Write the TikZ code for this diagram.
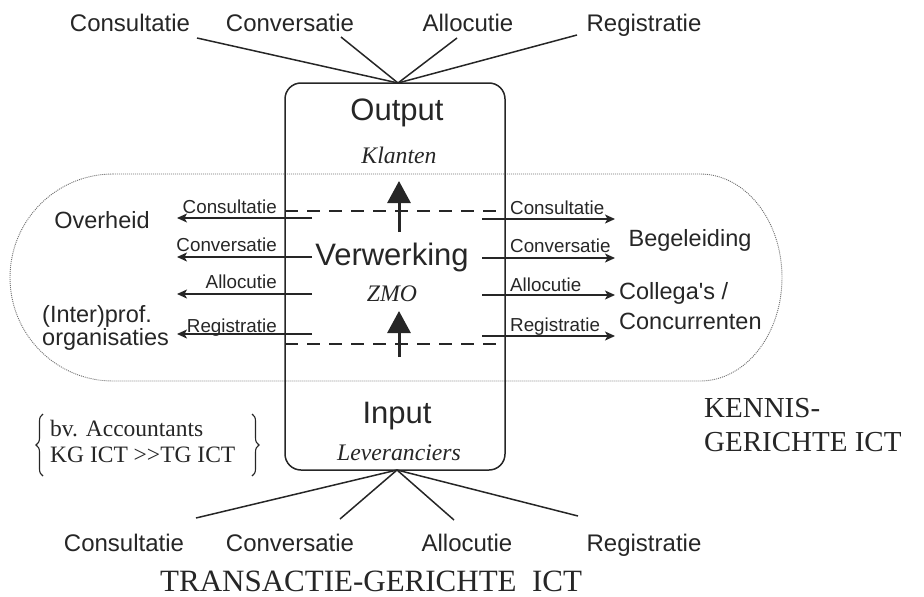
\documentclass[tikz,border=0pt]{standalone}
\usepackage{fontspec}
\setmainfont{Liberation Serif}
\setsansfont{Liberation Sans}
\usetikzlibrary{arrows.meta,decorations.pathreplacing}
\definecolor{ink}{HTML}{262626}
\definecolor{dotc}{HTML}{707070}
\begin{document}
\begin{tikzpicture}[x=1pt,y=1pt,
  every node/.style={inner sep=0pt, text=ink},
  outl/.style={font=\sffamily\fontsize{24}{26}\selectfont},
  big/.style={font=\sffamily\fontsize{31}{34}\selectfont},
  sub/.style={font=\rmfamily\itshape\fontsize{23.7}{26}\selectfont},
  arl/.style={font=\sffamily\fontsize{18.8}{20}\selectfont},
  party/.style={font=\sffamily\fontsize{23.5}{23}\selectfont},
  partyb/.style={font=\sffamily\fontsize{23.5}{30}\selectfont},
  capt/.style={font=\rmfamily\fontsize{31}{34}\selectfont},
  brk/.style={font=\rmfamily\fontsize{23.5}{26}\selectfont},
  conn/.style={draw=ink, line width=1.5pt},
  sidearrow/.style={draw=ink, line width=1.3pt, -{Stealth[length=10pt,width=9pt,inset=2.5pt]}},
  uparrow/.style={draw=ink, line width=3pt, -{Triangle[length=22pt,width=23pt]}},
  phase/.style={draw=ink, line width=2.4pt, dash pattern=on 13pt off 9pt},
]
\useasboundingbox (0,0) rectangle (924,-597);

% dotted knowledge region
\draw[dotc, line width=0.9pt, dash pattern=on 1pt off 1pt]
  (113,-174) -- (700,-174)
  arc[start angle=90,end angle=-90,x radius=82pt,y radius=103.5pt]
  -- (113,-381)
  arc[start angle=270,end angle=90,x radius=103pt,y radius=103.5pt] -- cycle;

% main box
\node[draw=ink, line width=1.5pt, rounded corners=16pt, minimum width=220pt, minimum height=387pt] (box) at (395,-276.5) {};

\node[big] (out) at (397,-113) {Output};
\node[sub] (kl) at (399,-155) {Klanten};
\node[big] (verw) at (392,-257) {Verwerking};
\node[sub] (zmo) at (392,-294) {ZMO};
\node[big] (inp) at (397,-416) {Input};
\node[sub] (lev) at (399,-453) {Leveranciers};

% dashed phase borders
\coordinate (d1a) at (285,-211); \coordinate (d1b) at (505,-211);
\coordinate (d2a) at (285,-344); \coordinate (d2b) at (505,-344);
\draw[phase] (d1a) -- (d1b);
\draw[phase] (d2a) -- (d2b);

% up arrows
\coordinate (u1s) at (399,-232); \coordinate (u1e) at (399,-181);
\coordinate (u2s) at (399,-357); \coordinate (u2e) at (399,-311);
\draw[uparrow] (u1s) -- (u1e);
\draw[uparrow] (u2s) -- (u2e);

% left arrows
\foreach \y/\t/\d [count=\i] in {218/Consultatie/5, 257/Conversatie/6, 294/Allocutie/6, 334/Registratie/2} {
  \coordinate (ls\i) at (312,-\y);
  \coordinate (le\i) at (177,-\y);
  \draw[sidearrow] (ls\i) -- (le\i);
  \node[arl, anchor=base east] (ll\i) at (277,-\y+\d) {\t};
}
% right arrows
\foreach \y/\t/\d [count=\i] in {219/Consultatie/5, 258/Conversatie/6, 295/Allocutie/4, 336/Registratie/5} {
  \coordinate (rs\i) at (482,-\y);
  \coordinate (re\i) at (615,-\y);
  \draw[sidearrow] (rs\i) -- (re\i);
  \node[arl, anchor=base west] (rl\i) at (510,-\y+\d) {\t};
}

% parties
\node[party] (overheid) at (102,-220) {Overheid};
\node[party, align=left, anchor=base west] (inter) at (42,-345) {(Inter)prof.\\organisaties};
\node[party] (beg) at (690,-240) {Begeleiding};
\node[partyb, align=left, anchor=base west] (coll) at (619,-329) {Collega\textquotesingle s /\\Concurrenten};

% top labels and connectors
\node[outl, anchor=base] (t1) at (130,-31) {Consultatie};
\node[outl, anchor=base] (t2) at (290,-31) {Conversatie};
\node[outl, anchor=base] (t3) at (468,-31) {Allocutie};
\node[outl, anchor=base] (t4) at (644,-31) {Registratie};
\coordinate (t1e) at (197,-38);
\coordinate (t2e) at (341,-37);
\coordinate (t3e) at (457,-38);
\coordinate (t4e) at (577,-35);
\coordinate (topap) at (398,-83);
\foreach \i in {1,2,3,4} { \draw[conn] (t\i e) -- (topap); }

% bottom labels and connectors
\node[outl, anchor=base] (b1) at (124,-551) {Consultatie};
\node[outl, anchor=base] (b2) at (290,-551) {Conversatie};
\node[outl, anchor=base] (b3) at (467,-551) {Allocutie};
\node[outl, anchor=base] (b4) at (644,-551) {Registratie};
\coordinate (b1e) at (196,-518);
\coordinate (b2e) at (340,-519);
\coordinate (b3e) at (454,-520);
\coordinate (b4e) at (578,-516);
\coordinate (botap) at (397,-470);
\foreach \i in {1,2,3,4} { \draw[conn] (b\i e) -- (botap); }

% captions
\node[capt, anchor=base west] (trans) at (160,-591) {TRANSACTIE-GERICHTE\ \ ICT};
\node[capt, font=\rmfamily\fontsize{29}{34}\selectfont, align=left, anchor=base west] (kennis) at (704,-451) {KENNIS-\\GERICHTE ICT};

% bracket note
\node[brk, align=left, anchor=base west] (bv) at (50,-462) {bv. Accountants\\KG ICT >{}>TG ICT};
\draw[ink, line width=1.1pt, decorate, decoration={brace, amplitude=7pt}] (43,-476) -- (43,-414);
\draw[ink, line width=1.1pt, decorate, decoration={brace, amplitude=7pt}] (252,-414) -- (252,-476);
\end{tikzpicture}
\end{document}
